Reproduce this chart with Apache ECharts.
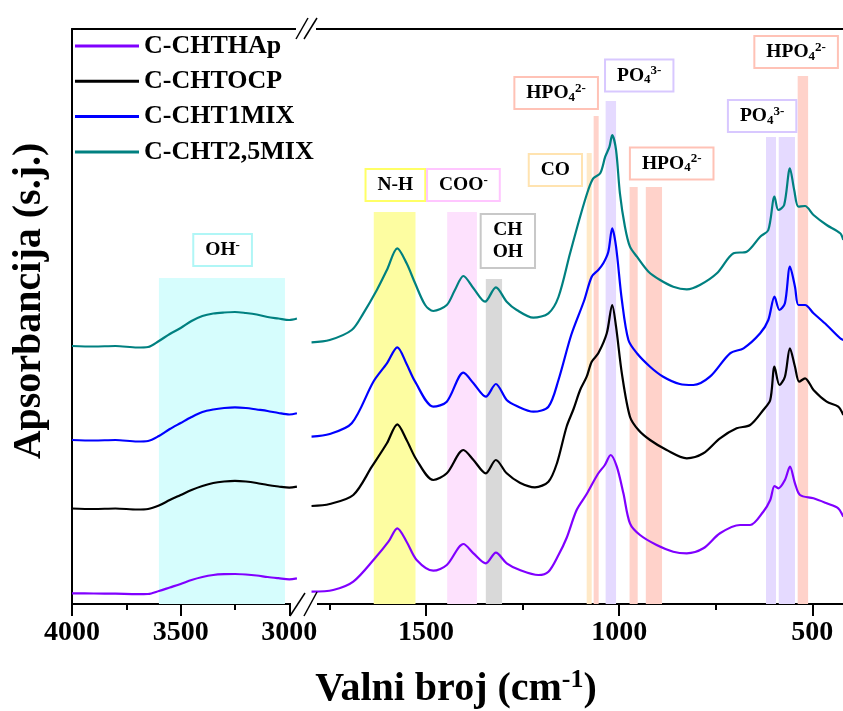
<!DOCTYPE html>
<html>
<head>
<meta charset="utf-8">
<script src="https://cdn.jsdelivr.net/npm/echarts@6/dist/echarts.min.js"></script>
<style>
  html, body { margin: 0; padding: 0; background: #fff; }
  #chart { width: 843px; height: 711px; }
</style>
</head>
<body>
<div id="chart"></div>
<script>
// ---- FTIR spectra (stacked, arbitrary absorbance units) ----
const seriesNames = ['C-CHTHAp', 'C-CHTOCP', 'C-CHT1MIX', 'C-CHT2,5MIX'];

// High-wavenumber window (4000 - 2960 cm-1)
const highWavenumbers = [4000, 3900, 3800, 3700, 3650, 3600, 3550, 3500, 3450, 3400, 3350, 3300, 3250, 3200, 3150, 3100, 3050, 3000, 2965];
const hapHigh   = [0.107, 0.105, 0.103, 0.098, 0.100, 0.130, 0.165, 0.200, 0.240, 0.270, 0.290, 0.298, 0.300, 0.295, 0.285, 0.270, 0.258, 0.247, 0.257];
const ocpHigh   = [0.955, 0.950, 0.955, 0.945, 0.950, 0.985, 1.040, 1.090, 1.140, 1.180, 1.210, 1.225, 1.232, 1.225, 1.210, 1.190, 1.175, 1.163, 1.173];
const mix1High  = [1.640, 1.635, 1.640, 1.625, 1.630, 1.680, 1.750, 1.810, 1.870, 1.920, 1.945, 1.960, 1.967, 1.960, 1.945, 1.930, 1.910, 1.895, 1.907];
const mix25High = [2.580, 2.575, 2.580, 2.565, 2.570, 2.630, 2.700, 2.760, 2.830, 2.880, 2.905, 2.915, 2.920, 2.910, 2.895, 2.870, 2.855, 2.840, 2.855];

// Fingerprint window (1800 - 400 cm-1), [wavenumber, absorbance]
const hapLow = [[1796,0.123],[1740,0.14],[1688,0.223],[1632,0.457],[1597,0.623],[1574,0.757],[1550,0.623],[1524,0.44],[1481,0.333],[1446,0.39],[1403,0.60],[1377,0.507],[1345,0.407],[1319,0.513],[1291,0.407],[1257,0.34],[1209,0.29],[1183,0.323],[1157,0.49],[1136,0.66],[1110,0.94],[1084,1.10],[1055,1.30],[1037,1.39],[1022,1.49],[1006,1.373],[989,1.107],[972,0.807],[946,0.69],[903,0.59],[860,0.523],[825,0.507],[782,0.557],[739,0.707],[687,0.79],[661,0.79],[627,0.923],[609,1.04],[598,1.18],[588,1.157],[571,1.24],[558,1.373],[545,1.207],[532,1.09],[497,1.057],[463,1.007],[433,0.957],[420,0.873]];
const ocpLow = [[1796,0.98],[1749,1.00],[1688,1.09],[1640,1.373],[1601,1.607],[1574,1.797],[1550,1.64],[1524,1.44],[1481,1.24],[1446,1.307],[1403,1.54],[1377,1.44],[1345,1.307],[1319,1.44],[1291,1.307],[1257,1.213],[1218,1.167],[1183,1.223],[1161,1.407],[1136,1.773],[1118,1.95],[1101,2.14],[1084,2.273],[1071,2.423],[1054,2.507],[1032,2.707],[1018,2.99],[1008,2.773],[993,2.307],[972,1.873],[950,1.74],[920,1.64],[877,1.54],[825,1.457],[782,1.507],[739,1.657],[696,1.757],[661,1.79],[627,1.94],[609,2.04],[598,2.373],[585,2.19],[571,2.273],[558,2.557],[545,2.373],[534,2.223],[519,2.257],[497,2.14],[463,2.023],[433,1.973],[420,1.89]];
const mix1Low = [[1796,1.673],[1749,1.70],[1692,1.807],[1636,2.223],[1601,2.407],[1574,2.567],[1550,2.40],[1528,2.223],[1481,1.973],[1446,2.023],[1403,2.313],[1377,2.207],[1345,2.073],[1319,2.20],[1291,2.04],[1265,1.98],[1222,1.923],[1183,1.973],[1157,2.24],[1124,2.69],[1091,3.03],[1071,3.273],[1054,3.34],[1041,3.407],[1028,3.523],[1018,3.757],[1008,3.573],[993,3.04],[976,2.64],[954,2.507],[920,2.373],[886,2.273],[843,2.20],[808,2.19],[765,2.273],[713,2.507],[678,2.557],[635,2.707],[614,2.84],[598,3.073],[585,2.94],[571,3.007],[558,3.373],[545,3.173],[536,2.99],[519,2.99],[497,2.907],[463,2.79],[428,2.657],[420,2.64]];
const mix25Low = [[1796,2.617],[1749,2.64],[1692,2.74],[1662,2.907],[1627,3.14],[1601,3.34],[1574,3.557],[1550,3.407],[1528,3.207],[1502,2.99],[1481,2.93],[1446,2.99],[1425,3.14],[1403,3.28],[1377,3.157],[1347,3.023],[1319,3.167],[1291,3.023],[1265,2.94],[1222,2.863],[1183,2.907],[1157,3.07],[1127,3.507],[1101,3.873],[1080,4.14],[1067,4.257],[1049,4.307],[1036,4.473],[1025,4.573],[1018,4.69],[1008,4.54],[998,4.107],[985,3.773],[972,3.573],[954,3.473],[924,3.323],[894,3.24],[860,3.173],[825,3.147],[791,3.19],[747,3.307],[704,3.507],[670,3.523],[635,3.673],[614,3.74],[598,4.073],[588,3.94],[573,3.99],[558,4.357],[547,4.14],[536,3.973],[519,3.98],[497,3.89],[463,3.79],[428,3.707],[420,3.64]];

// Assigned absorption bands: [group, from cm-1, to cm-1, band top]
const bands = [
  ['OH', 3600, 3020, 3.26],
  ['NH', 1635, 1527, 3.92],
  ['COO', 1445, 1368, 3.92],
  ['CHOH', 1345, 1303, 3.25],
  ['CO', 1084, 1071, 4.51],
  ['HPO4', 1066, 1053, 4.88],
  ['PO4', 1035, 1008, 5.03],
  ['HPO4', 973, 952, 4.17],
  ['HPO4', 931, 889, 4.17],
  ['PO4', 620, 594, 4.67],
  ['PO4', 587, 545, 4.67],
  ['HPO4', 538, 511, 5.28]
];
// Band annotations: [group, wavenumber, absorbance]
const bandLabels = [
  ['OH', 3307, 3.54],
  ['NH', 1579, 4.19],
  ['COO', 1403, 4.19],
  ['CHOH', 1288, 3.63],
  ['CO', 1165, 4.34],
  ['HPO4', 1163, 5.11],
  ['PO4', 948, 5.285],
  ['HPO4', 864, 4.405],
  ['PO4', 630, 4.88],
  ['HPO4', 542, 5.52]
];
const groupText = {
  OH: '{t|OH}{sup|-}',
  NH: '{t|N-H}',
  COO: '{t|COO}{sup|-}',
  CHOH: '{t|CH}\n{t|OH}',
  CO: '{t|CO}',
  HPO4: '{t|HPO}{sub|4}{sup|2-}',
  PO4: '{t|PO}{sub|4}{sup|3-}'
};

// Axis ticks
const highMajorTicks = [3000, 3500, 4000];
const highMinorTicks = [3250, 3750];
const lowMajorTicks = [500, 1000, 1500];
const lowMinorTicks = [750, 1250, 1750];

// ---- styling ----
const serif = '"Liberation Serif", "Times New Roman", serif';
const lineColors = ['#8000ff', '#000000', '#0000ff', '#008080'];
const bandFill = { OH: '#d6fdfd', NH: '#fdfda1', COO: '#fde1fd', CHOH: '#d9d9d9', CO: '#ffe9c7', HPO4: '#ffd2ca', PO4: '#e5daff' };
const boxBorder = { OH: '#b0f6f6', NH: '#ffff66', COO: '#ffc6ff', CHOH: '#c8c8c8', CO: '#ffe3b0', HPO4: '#ffc2b6', PO4: '#d8c8ff' };

const highSets = [hapHigh, ocpHigh, mix1High, mix25High];
const lowSets = [hapLow, ocpLow, mix1Low, mix25Low];

function bottomAxis(grid, min, max, ticks, len, labels) {
  return {
    gridIndex: grid, type: 'value', position: 'bottom', min: min, max: max, inverse: true,
    axisLine: { show: true, onZero: false, lineStyle: { color: '#000', width: 2 } },
    axisTick: { show: true, customValues: ticks, length: len, lineStyle: { color: '#000', width: 2 } },
    axisLabel: labels ? {
      show: true, customValues: ticks, margin: 15, formatter: v => String(v),
      fontFamily: serif, fontWeight: 'bold', fontSize: 28, color: '#000'
    } : { show: false },
    splitLine: { show: false }
  };
}
function topAxis(grid, min, max) {
  return {
    gridIndex: grid, type: 'value', position: 'top', min: min, max: max, inverse: true,
    axisLine: { show: true, onZero: false, lineStyle: { color: '#000', width: 2 } },
    axisTick: { show: false }, axisLabel: { show: false }, splitLine: { show: false }
  };
}

const richText = (size) => ({
  fontFamily: serif, fontWeight: 'bold', fontSize: size, color: '#000',
  textBorderWidth: 0, textBorderColor: 'transparent', textShadowBlur: 0
});

const series = [];
// shaded bands
[0, 1].forEach(g => {
  series.push({
    type: 'line', name: 'bands' + g, data: [], z: 1, silent: true,
    xAxisIndex: g === 0 ? 0 : 3, yAxisIndex: g,
    markArea: {
      silent: true,
      data: bands.filter(b => (g === 0) === (b[1] > 2000)).map(b => [
        { xAxis: b[1], yAxis: 0, itemStyle: { color: bandFill[b[0]], opacity: 1 } },
        { xAxis: b[2], yAxis: b[3] }
      ])
    }
  });
});
// spectra
seriesNames.forEach((name, i) => {
  const common = {
    type: 'line', name: name, symbol: 'none', smooth: 0.3, z: 3,
    lineStyle: { color: lineColors[i], width: 2.2 }, itemStyle: { color: lineColors[i] },
    emphasis: { disabled: true }
  };
  series.push(Object.assign({}, common, {
    xAxisIndex: 0, yAxisIndex: 0,
    data: highWavenumbers.map((w, k) => [w, highSets[i][k]])
  }));
  series.push(Object.assign({}, common, {
    xAxisIndex: 3, yAxisIndex: 1,
    data: lowSets[i]
  }));
});
// band annotations
[0, 1].forEach(g => {
  series.push({
    type: 'scatter', name: 'labels' + g, z: 10, silent: true, symbolSize: 0,
    xAxisIndex: g === 0 ? 0 : 3, yAxisIndex: g,
    itemStyle: { color: '#000', opacity: 1 },
    emphasis: { disabled: true },
    data: bandLabels.filter(l => (g === 0) === (l[1] > 2000)).map(l => ({
      value: [l[1], l[2]],
      label: Object.assign(richText(19), {
        show: true, position: 'inside', formatter: groupText[l[0]], opacity: 1,
        backgroundColor: '#fff', borderColor: boxBorder[l[0]], borderWidth: 2,
        padding: [4, 11],
        rich: {
          t: Object.assign(richText(19.5), { lineHeight: 22 }),
          sub: Object.assign(richText(13), { lineHeight: 13, verticalAlign: 'bottom' }),
          sup: Object.assign(richText(13), { lineHeight: 13, verticalAlign: 'top' })
        }
      })
    }))
  });
});

const option = {
  animation: false,
  backgroundColor: '#fff',
  grid: [
    { left: 72, top: 29, width: 226, height: 575, containLabel: false, outerBoundsMode: 'none' },
    { left: 310, top: 29, width: 541, height: 575, containLabel: false, outerBoundsMode: 'none' }
  ],
  xAxis: [
    bottomAxis(0, 2960, 4000, highMajorTicks, 12, true),
    bottomAxis(0, 2960, 4000, highMinorTicks, 6, false),
    topAxis(0, 2960, 4000),
    bottomAxis(1, 400, 1800, lowMajorTicks, 12, true),
    bottomAxis(1, 400, 1800, lowMinorTicks, 6, false),
    topAxis(1, 400, 1800)
  ],
  yAxis: [
    { gridIndex: 0, type: 'value', min: 0, max: 5.75,
      axisLine: { show: true, onZero: false, lineStyle: { color: '#000', width: 2 } },
      axisTick: { show: false }, axisLabel: { show: false }, splitLine: { show: false } },
    { gridIndex: 1, type: 'value', min: 0, max: 5.75, show: false, splitLine: { show: false } }
  ],
  legend: {
    data: seriesNames, orient: 'vertical', left: 75, top: 33, padding: 0,
    icon: 'rect', itemWidth: 64, itemHeight: 3, itemGap: 9.3,
    textStyle: { fontFamily: serif, fontWeight: 'bold', fontSize: 26, lineHeight: 26, color: '#000' },
    selectedMode: false
  },
  series: series,
  graphic: [
    // axis break gaps and marks
    { type: 'rect', z: 100, shape: { x: 291, y: 600, width: 26, height: 8 }, style: { fill: '#fff' } },
    { type: 'rect', z: 100, shape: { x: 296, y: 25, width: 20, height: 8 }, style: { fill: '#fff' } },
    { type: 'line', z: 101, shape: { x1: 290, y1: 616, x2: 305, y2: 593 }, style: { stroke: '#000', lineWidth: 1.5 } },
    { type: 'line', z: 101, shape: { x1: 304, y1: 616, x2: 317, y2: 592 }, style: { stroke: '#000', lineWidth: 1.5 } },
    { type: 'line', z: 101, shape: { x1: 296, y1: 39, x2: 308, y2: 18 }, style: { stroke: '#000', lineWidth: 1.5 } },
    { type: 'line', z: 101, shape: { x1: 304, y1: 39, x2: 317, y2: 18 }, style: { stroke: '#000', lineWidth: 1.5 } },
    // axis titles
    { type: 'text', z: 101, x: 30, y: 301, rotation: Math.PI / 2,
      style: { text: 'Apsorbancija (s.j.)', fontFamily: serif, fontWeight: 'bold', fontSize: 40, fill: '#000', align: 'center', verticalAlign: 'middle' } },
    { type: 'text', z: 101, x: 456, y: 690,
      style: {
        text: '{a|Valni broj (cm}{s|-1}{a|)}', align: 'center', verticalAlign: 'middle',
        rich: {
          a: { fontFamily: serif, fontWeight: 'bold', fontSize: 40, lineHeight: 46, fill: '#000' },
          s: { fontFamily: serif, fontWeight: 'bold', fontSize: 26, lineHeight: 26, verticalAlign: 'top', fill: '#000' }
        }
      } }
  ]
};

const chart = echarts.init(document.getElementById('chart'), null, { renderer: 'canvas' });
chart.setOption(option);
</script>
</body>
</html>
